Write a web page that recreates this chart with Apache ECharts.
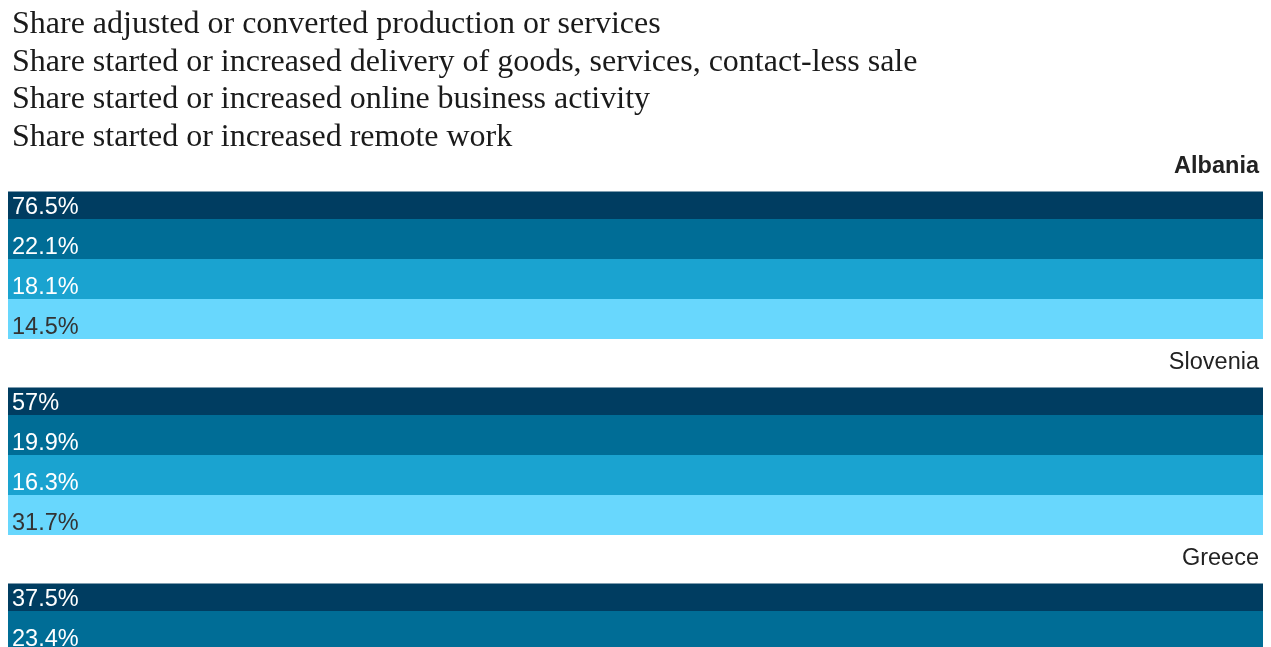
<!DOCTYPE html>
<html>
<head>
<meta charset="utf-8">
<script src="https://cdn.jsdelivr.net/npm/echarts@6/dist/echarts.min.js"></script>
<style>
html,body{margin:0;padding:0;background:#fff;}
#chart{width:1271px;height:647px;}
</style>
</head>
<body>
<div id="chart"></div>
<script>
const countries = ['Albania', 'Slovenia', 'Greece'];
const seriesNames = [
  'Share adjusted or converted production or services',
  'Share started or increased delivery of goods, services, contact-less sale',
  'Share started or increased online business activity',
  'Share started or increased remote work'
];
const adjusted = [76.5, 57, 37.5];
const delivery = [22.1, 19.9, 23.4];
const online = [18.1, 16.3, null];
const remote = [14.5, 31.7, null];

const colors = ['#003d61', '#006d96', '#1aa3d0', '#68d7fd'];
const labelColors = ['#ffffff', '#ffffff', '#ffffff', '#333333'];
const barWidths = [27.5, 40, 40, 40];
const values = [adjusted, delivery, online, remote];

const chart = echarts.init(document.getElementById('chart'));
chart.setOption({
  animation: false,
  color: colors,
  legend: {
    orient: 'vertical',
    left: 2,
    top: 3.5,
    icon: 'none',
    itemWidth: 0,
    itemHeight: 10,
    itemGap: 5.7,
    selectedMode: false,
    data: seriesNames,
    textStyle: {
      fontFamily: '"Liberation Serif", "Times New Roman", serif',
      fontSize: 32,
      lineHeight: 32,
      color: '#1a1a1a'
    }
  },
  grid: { left: 8, right: 8, top: 167.25, height: 588, containLabel: false, outerBoundsMode: 'none' },
  xAxis: { type: 'value', min: 0, max: 10, show: false },
  yAxis: {
    type: 'category',
    data: countries,
    inverse: true,
    position: 'right',
    axisLine: { show: false },
    axisTick: { show: false },
    splitLine: { show: false },
    axisLabel: {
      inside: true,
      interval: 0,
      margin: 4,
      align: 'right',
      verticalAlign: 'bottom',
      padding: [0, 0, 87.25, 0],
      fontFamily: '"Liberation Sans", Arial, sans-serif',
      fontSize: 23.5,
      lineHeight: 23,
      color: '#222',
      formatter: function (v, i) { return i === 0 ? '{b|' + v + '}' : '{n|' + v + '}'; },
      rich: {
        b: { fontWeight: 'bold', fontSize: 23.5, lineHeight: 23, color: '#222', fontFamily: '"Liberation Sans", Arial, sans-serif' },
        n: { fontSize: 23.5, lineHeight: 23, color: '#222', fontFamily: '"Liberation Sans", Arial, sans-serif' }
      }
    }
  },
  series: values.map(function (vals, i) {
    return {
      name: seriesNames[i],
      type: 'bar',
      data: vals,
      barWidth: barWidths[i],
      barGap: 0,
      clip: true,
      itemStyle: { color: colors[i] },
      label: {
        show: true,
        position: 'insideBottomLeft',
        distance: 4,
        offset: [0, 4.5],
        fontFamily: '"Liberation Sans", Arial, sans-serif',
        fontSize: 23.5,
        lineHeight: 23,
        color: labelColors[i],
        formatter: function (p) { return p.value + '%'; }
      }
    };
  })
});
</script>
</body>
</html>
